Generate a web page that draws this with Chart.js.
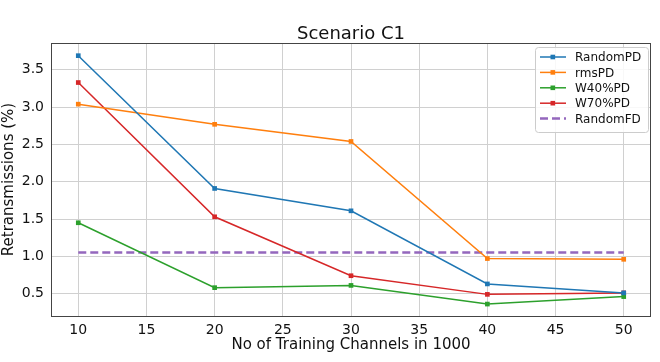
<!DOCTYPE html>
<html lang="en">
<head>
<meta charset="utf-8">
<title>Scenario C1</title>
<style>
  html, body { margin: 0; padding: 0; background: #fff; }
  #wrap { width: 660px; height: 362px; }
</style>
</head>
<body>
<div id="wrap"><canvas id="myChart" width="660" height="362"></canvas></div>
<script src="https://cdn.jsdelivr.net/npm/chart.js"></script>
<script>
// data
const channels = [10, 20, 30, 40, 50];
const randomPD = [3.69, 1.91, 1.61, 0.63, 0.51];
const rmsPD    = [3.04, 2.77, 2.54, 0.97, 0.96];
const w40PD    = [1.45, 0.58, 0.61, 0.36, 0.46];
const w70PD    = [3.33, 1.53, 0.74, 0.49, 0.51];
const randomFD = [1.05, 1.05, 1.05, 1.05, 1.05];
const xTicks = [10, 15, 20, 25, 30, 35, 40, 45, 50];
const yTicks = [0.5, 1.0, 1.5, 2.0, 2.5, 3.0, 3.5];

const font = "'DejaVu Sans', sans-serif";

function pts(vals) {
    return channels.map((c, i) => ({ x: c, y: vals[i] }));
}
function line(label, vals, color) {
    return {
        label: label, data: pts(vals),
        borderColor: color, backgroundColor: color,
        borderWidth: 1.5, pointStyle: 'rect', pointRadius: 3.3,
        pointBorderWidth: 0, tension: 0
    };
}

// frame, title and legend in the matplotlib way
const extras = {
    id: 'extras',
    afterDraw(chart) {
        const ctx = chart.ctx, a = chart.chartArea;
        ctx.save();
        ctx.strokeStyle = '#444';
        ctx.lineWidth = 1;
        ctx.strokeRect(a.left + 0.5, a.top + 0.5, a.right - a.left - 1, a.bottom - a.top);

        ctx.fillStyle = '#111';
        ctx.font = '18px ' + font;
        ctx.textAlign = 'center';
        ctx.textBaseline = 'alphabetic';
        ctx.fillText('Scenario C1', (a.left + a.right) / 2, 39);

        // legend box
        const bx = 535, by = 47, bw = 113, bh = 85;
        ctx.fillStyle = 'rgba(255,255,255,0.85)';
        ctx.strokeStyle = '#ccc';
        ctx.beginPath();
        ctx.roundRect(bx + 0.5, by + 0.5, bw, bh, 3);
        ctx.fill();
        ctx.stroke();
        ctx.font = '12px ' + font;
        ctx.textAlign = 'left';
        ctx.textBaseline = 'middle';
        chart.data.datasets.forEach((ds, i) => {
            const y = by + 10 + i * 15.4;
            ctx.strokeStyle = ds.borderColor;
            ctx.lineWidth = ds.borderWidth;
            ctx.setLineDash(ds.borderDash || []);
            ctx.beginPath();
            ctx.moveTo(540, y);
            ctx.lineTo(566, y);
            ctx.stroke();
            ctx.setLineDash([]);
            if (ds.pointRadius) {
                ctx.fillStyle = ds.borderColor;
                ctx.fillRect(550.5, y - 2.3, 4.6, 4.6);
            }
            ctx.fillStyle = '#111';
            ctx.fillText(ds.label, 575, y + 1);
        });
        ctx.restore();
    }
};

new Chart(document.getElementById('myChart').getContext('2d'), {
    type: 'line',
    data: {
        datasets: [
            line('RandomPD', randomPD, '#1f77b4'),
            line('rmsPD', rmsPD, '#ff7f0e'),
            line('W40%PD', w40PD, '#2ca02c'),
            line('W70%PD', w70PD, '#d62728'),
            {
                label: 'RandomFD', data: pts(randomFD),
                borderColor: '#9467bd', backgroundColor: '#9467bd',
                borderWidth: 2.5, borderDash: [8, 4], pointRadius: 0
            }
        ]
    },
    options: {
        responsive: false,
        animation: false,
        layout: { padding: { top: 43, right: 9, left: 0, bottom: 0 } },
        plugins: { legend: { display: false }, tooltip: { enabled: false } },
        scales: {
            x: {
                type: 'linear', min: 8, max: 52,
                afterBuildTicks: s => { s.ticks = xTicks.map(v => ({ value: v })); },
                afterFit: s => { s.height = 46; },
                grid: { color: '#d0d0d0', tickColor: 'rgba(0,0,0,0)', tickLength: 4, lineWidth: 1 },
                border: { display: false },
                ticks: { color: '#111', font: { family: font, size: 14 }, padding: 2, maxRotation: 0 },
                title: { display: true, text: 'No of Training Channels in 1000', color: '#111',
                         font: { family: font, size: 15 }, padding: { top: 0, bottom: 8 } }
            },
            y: {
                min: 0.2, max: 3.86,
                afterBuildTicks: s => { s.ticks = yTicks.map(v => ({ value: v })); },
                afterFit: s => { s.width = 51; },
                grid: { color: '#d0d0d0', tickColor: 'rgba(0,0,0,0)', tickLength: 4, lineWidth: 1 },
                border: { display: false },
                ticks: { color: '#111', font: { family: font, size: 14 }, padding: 3,
                         callback: v => v.toFixed(1) },
                title: { display: true, text: 'Retransmissions (%)', color: '#111',
                         font: { family: font, size: 15 }, padding: { top: 0, bottom: 0 } }
            }
        }
    },
    plugins: [extras]
});
</script>
</body>
</html>
